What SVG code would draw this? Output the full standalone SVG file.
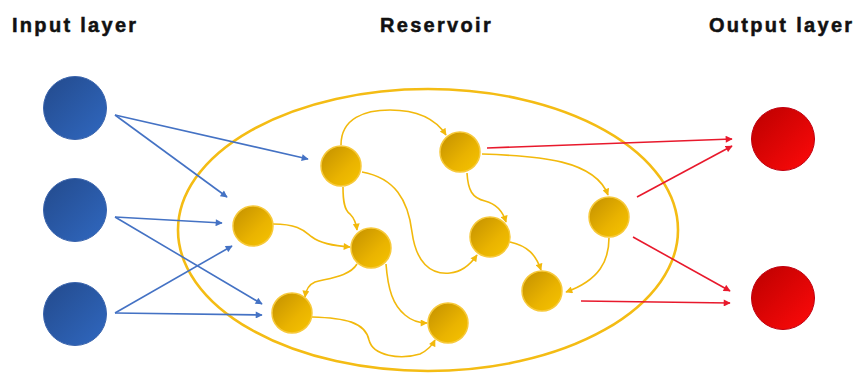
<svg xmlns="http://www.w3.org/2000/svg" width="859" height="374" viewBox="0 0 859 374">
<style>
.title{font-family:"Liberation Sans",Arial,sans-serif;font-weight:bold;font-size:20px;letter-spacing:2.3px;fill:#111;stroke:#111;stroke-width:0.5}
.blue{fill:none;stroke:#4472c4;stroke-width:1.6;marker-end:url(#ab)}
.red{fill:none;stroke:#e8192c;stroke-width:1.6;marker-end:url(#ar)}
.yel{fill:none;stroke:#f2b90c;stroke-width:1.6;marker-end:url(#ay)}
.in{fill:url(#gb);stroke:#3a64ad;stroke-width:1}
.res{fill:url(#gy);stroke:#f7c93a;stroke-width:1.5}
.out{fill:url(#gr);stroke:#c00010;stroke-width:1}
</style>
<defs>
<linearGradient id="gb" x1="0" y1="0" x2="1" y2="1"><stop offset="0" stop-color="#234a8c"/><stop offset="1" stop-color="#3068c0"/></linearGradient>
<linearGradient id="gy" x1="0" y1="0" x2="1" y2="1"><stop offset="0" stop-color="#c28f00"/><stop offset="0.6" stop-color="#e9b300"/><stop offset="1" stop-color="#f7c400"/></linearGradient>
<linearGradient id="gr" x1="0" y1="0" x2="1" y2="1"><stop offset="0" stop-color="#bb0000"/><stop offset="1" stop-color="#ff0a0a"/></linearGradient>
<marker id="ab" viewBox="0 0 10 10" refX="9" refY="5" markerWidth="8" markerHeight="7" markerUnits="userSpaceOnUse" orient="auto"><path d="M0,0 L10,5 L0,10 z" fill="#4472c4"/></marker>
<marker id="ar" viewBox="0 0 10 10" refX="9" refY="5" markerWidth="8" markerHeight="7" markerUnits="userSpaceOnUse" orient="auto"><path d="M0,0 L10,5 L0,10 z" fill="#e8192c"/></marker>
<marker id="ay" viewBox="0 0 10 10" refX="9" refY="5" markerWidth="8" markerHeight="7" markerUnits="userSpaceOnUse" orient="auto"><path d="M0,0 L10,5 L0,10 z" fill="#f2b90c"/></marker>
</defs>
<rect width="859" height="374" fill="#fff"/>
<text class="title" x="12" y="32">Input layer</text>
<text class="title" x="380" y="32">Reservoir</text>
<text class="title" x="709" y="32">Output layer</text>
<g id="reservoir-boundary"><ellipse cx="428" cy="230" rx="250" ry="141" fill="none" stroke="#f4bc14" stroke-width="2.6"/></g>
<g id="connectors">
<path class="blue" d="M115,115 L308,159"/>
<path class="blue" d="M115,115 L227,197"/>
<path class="blue" d="M115,217 L222,223"/>
<path class="blue" d="M115,217 L262,304"/>
<path class="blue" d="M115,313 L232,246"/>
<path class="blue" d="M115,313 L262,315"/>
<path class="yel" d="M341,145 C341,118 365,110 390,110 C415,110 435,118 446,135"/>
<path class="yel" d="M343,187 C343,200 344,210 350,214 C354,218 356,222 357,230"/>
<path class="yel" d="M362,172 C395,178 408,200 412,232 C416,262 430,275 450,273 C462,272 470,265 477,255"/>
<path class="yel" d="M273,224 C300,224 305,232 312,237 C320,243 335,246 350,247"/>
<path class="yel" d="M357,264 C350,276 330,278 315,282 C308,285 306,290 305,297"/>
<path class="yel" d="M386,264 C388,290 393,305 405,315 C412,321 418,323 427,323"/>
<path class="yel" d="M312,317 C345,318 365,322 369,340 C373,356 400,360 420,354 C428,350 432,346 435,340"/>
<path class="yel" d="M467,173 C468,190 472,198 485,201 C497,204 503,212 506,222"/>
<path class="yel" d="M510,242 C528,246 536,255 541,270"/>
<path class="yel" d="M482,154 C540,156 595,160 608,195"/>
<path class="yel" d="M609,238 C609,260 600,280 566,292"/>
<path class="red" d="M487,148 L732,139"/>
<path class="red" d="M637,197 L732,146"/>
<path class="red" d="M633,237 L730,291"/>
<path class="red" d="M581,301 L730,303"/>
</g>
<g id="in1"><circle class="in" cx="75" cy="108" r="31.5"/></g>
<g id="in2"><circle class="in" cx="75" cy="210" r="31.5"/></g>
<g id="in3"><circle class="in" cx="75" cy="314" r="31.5"/></g>
<g id="rA"><circle class="res" cx="341" cy="166" r="20"/></g>
<g id="rB"><circle class="res" cx="460" cy="152" r="20"/></g>
<g id="rC"><circle class="res" cx="371" cy="248" r="20"/></g>
<g id="rD"><circle class="res" cx="490" cy="237" r="20"/></g>
<g id="rE"><circle class="res" cx="542" cy="291" r="20"/></g>
<g id="rF"><circle class="res" cx="448" cy="323" r="20"/></g>
<g id="rG"><circle class="res" cx="292" cy="313" r="20"/></g>
<g id="rH"><circle class="res" cx="253" cy="226" r="20"/></g>
<g id="rI"><circle class="res" cx="609" cy="217" r="20"/></g>
<g id="out1"><circle class="out" cx="783" cy="139" r="31.5"/></g>
<g id="out2"><circle class="out" cx="783" cy="298" r="31.5"/></g>
</svg>
